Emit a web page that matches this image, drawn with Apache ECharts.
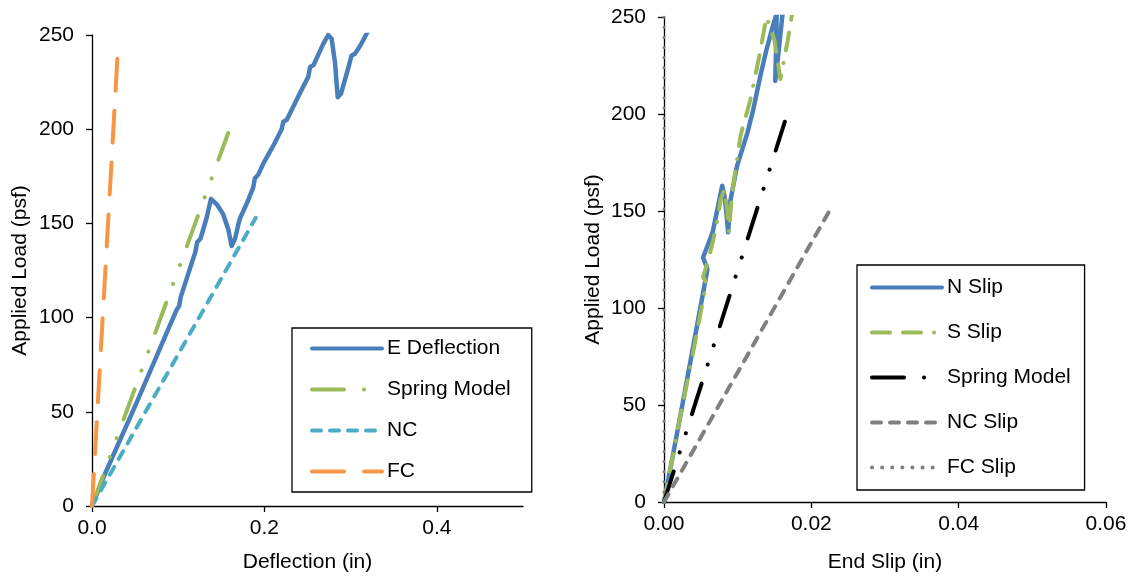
<!DOCTYPE html>
<html>
<head>
<meta charset="utf-8">
<script src="https://cdn.jsdelivr.net/npm/echarts@6/dist/echarts.min.js"></script>
<style>
html,body{margin:0;padding:0;background:#fff;}
#c{width:1134px;height:578px;}
</style>
</head>
<body>
<div id="c"></div>
<script>
// ---- Left chart data (Deflection in, Applied Load psf) ----
const eDeflection = [[0,0],[0.015,17],[0.05,53],[0.098,104],[0.101,106],[0.103,111],[0.12,135],[0.122,140],[0.126,142],[0.133,153],[0.138,163],[0.145,160],[0.152,155],[0.158,147],[0.162,138],[0.166,142],[0.17,150],[0.172,153],[0.18,161],[0.187,169],[0.189,174],[0.193,176],[0.199,182],[0.21,191],[0.22,200],[0.222,204],[0.226,205],[0.24,218],[0.251,228],[0.253,233],[0.257,234],[0.268,245],[0.274,250],[0.278,248],[0.282,235],[0.285,217],[0.289,219],[0.297,232],[0.301,239],[0.305,240],[0.312,245],[0.32,252]];
const springModelL = [[0,0],[0.158,198]];
const ncL = [[0,0],[0.19,153]];
const fcL = [[0,0],[0.03,242]];
const leftXTicks = [0,0.2,0.4];

// ---- Right chart data (End Slip in, Applied Load psf) ----
const nSlip = [[0,0],[0.0021,42],[0.0041,83],[0.0059,120],[0.0053,126],[0.0061,134],[0.0066,139],[0.0072,150],[0.0079,163],[0.0082,158],[0.0085,148],[0.0087,139],[0.009,155],[0.0099,173],[0.0113,190],[0.0121,202],[0.0131,220],[0.0139,233],[0.0146,243],[0.0153,252],[0.0152,232],[0.0151,217],[0.0155,230],[0.0161,252]];
const sSlip = [[0,0],[0.002,40],[0.0041,80],[0.0055,108],[0.0059,112],[0.0053,116],[0.0061,126],[0.007,140],[0.0077,156],[0.0082,161],[0.0086,150],[0.0088,139],[0.0092,158],[0.0104,189],[0.0117,207],[0.013,231],[0.0139,250],[0.015,238],[0.0158,218],[0.0162,226],[0.0168,238],[0.0174,252]];
const springModelR = [[0,0],[0.0164,196]];
const ncSlip = [[0,0],[0.0226,151]];
const fcSlip = [[0,0],[0,250]];

const yTicks = [0,50,100,150,200,250];
const rightXTicks = [0,0.02,0.04,0.06];

const FONT = 'Liberation Sans, Arial, sans-serif';
const txt = {color:'#000', fontFamily:FONT, fontSize:21};
const axisLine = {show:true, lineStyle:{color:'#000', width:1.3}};
const tick = {show:true, inside:false, length:6, lineStyle:{color:'#000', width:1.3}};

function line(name, data, color, width, dash, xi){
  return {
    name:name, type:'line', data:data, xAxisIndex:xi, yAxisIndex:xi,
    symbol:'none', showSymbol:false, smooth:false, animation:false,
    lineStyle:{color:color, width:width, type:dash, cap:'round', join:'round'},
    itemStyle:{color:color}
  };
}

const legendCommon = {
  orient:'vertical', itemWidth:70, itemHeight:14, itemGap:20,
  borderColor:'#000', borderWidth:1.3, textStyle:txt, selectedMode:false,
  itemStyle:{opacity:0, borderWidth:0},
  lineStyle:{width:4, cap:'round', opacity:1}
};

const chart = echarts.init(document.getElementById('c'), null, {renderer:'canvas'});
chart.setOption({
  animation:false,
  backgroundColor:'#fff',
  grid:[
    {left:92, top:35, width:431, height:471, containLabel:false, outerBoundsMode:'none'},
    {left:664, top:17, width:442, height:485, containLabel:false, outerBoundsMode:'none'}
  ],
  xAxis:[
    {gridIndex:0, type:'value', min:0, max:0.5, interval:0.2,
     name:'Deflection (in)', nameLocation:'middle', nameGap:46, nameTextStyle:txt,
     axisLine:axisLine, axisTick:Object.assign({customValues:leftXTicks}, tick),
     axisLabel:Object.assign({customValues:leftXTicks, margin:12, formatter:v=>v.toFixed(1)}, txt),
     splitLine:{show:false}},
    {gridIndex:1, type:'value', min:0, max:0.06, interval:0.02,
     name:'End Slip (in)', nameLocation:'middle', nameGap:50, nameTextStyle:txt,
     axisLine:axisLine, axisTick:Object.assign({customValues:rightXTicks}, tick),
     axisLabel:Object.assign({customValues:rightXTicks, margin:12, formatter:v=>v.toFixed(2)}, txt),
     splitLine:{show:false}}
  ],
  yAxis:[
    {gridIndex:0, type:'value', min:0, max:250, interval:50,
     name:'Applied Load (psf)', nameLocation:'middle', nameGap:61, nameRotate:90, nameTextStyle:txt,
     axisLine:axisLine, axisTick:Object.assign({customValues:yTicks}, tick),
     axisLabel:Object.assign({customValues:yTicks, margin:18}, txt),
     splitLine:{show:false}},
    {gridIndex:1, type:'value', min:0, max:250, interval:50,
     name:'Applied Load (psf)', nameLocation:'middle', nameGap:60, nameRotate:90, nameTextStyle:txt,
     axisLine:axisLine, axisTick:Object.assign({customValues:yTicks}, tick),
     axisLabel:Object.assign({customValues:yTicks, margin:18}, txt),
     splitLine:{show:false}}
  ],
  legend:[
    Object.assign({}, legendCommon, {data:['E Deflection','Spring Model','NC','FC'],
      left:292, top:328, padding:[10,21,10,18], itemGap:20}),
    Object.assign({}, legendCommon, {data:['N Slip','S Slip','Spring Model ','NC Slip','FC Slip'],
      left:857, top:265, padding:[12,8,12,13], itemGap:24})
  ],
  series:[
    line('E Deflection', eDeflection, '#4A7EBB', 4.5, 'solid', 0),
    line('Spring Model', springModelL, '#9BBB59', 4, [32,20,0.1,20,0.1,20], 0),
    line('NC', ncL, '#4BACC6', 4, [9,9], 0),
    line('FC', fcL, '#F79646', 4, [32,20], 0),
    line('N Slip', nSlip, '#4A7EBB', 4.5, 'solid', 1),
    line('S Slip', sSlip, '#9BBB59', 4, [18,13,18,13,0.1,13], 1),
    line('Spring Model ', springModelR, '#000000', 4, [32,20,0.1,20,0.1,20], 1),
    line('NC Slip', ncSlip, '#808080', 4, [9,9], 1),
    line('FC Slip', fcSlip, '#808080', 3, [0.1,10], 1)
  ]
});
</script>
</body>
</html>
